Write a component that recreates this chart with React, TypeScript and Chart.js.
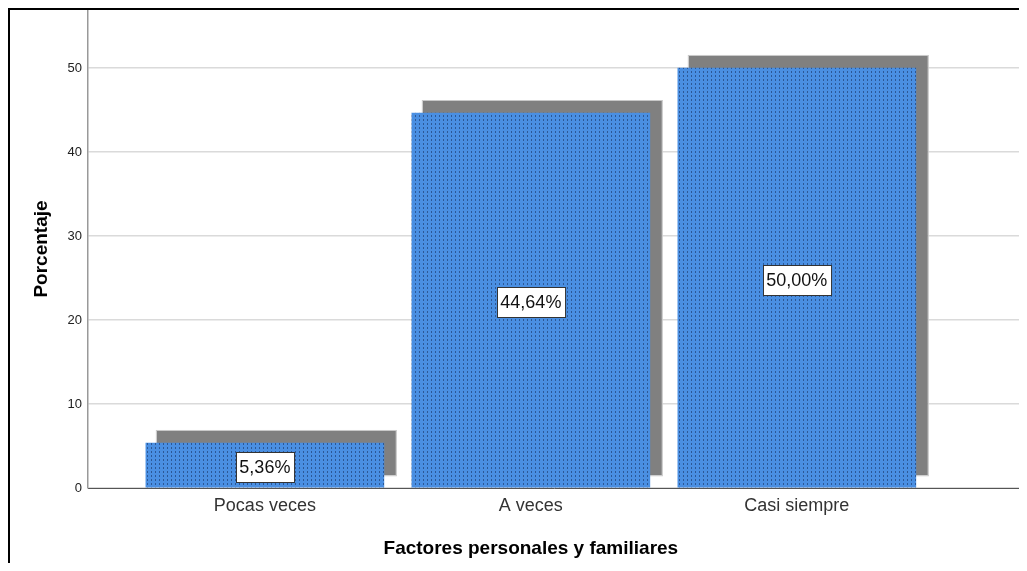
import React, { useEffect, useRef } from "react";
import { Chart, registerables } from "chart.js";

Chart.register(...registerables);

const categories = ["Pocas veces", "A veces", "Casi siempre"];
const percentages = [5.36, 44.64, 50.0];
const yTickValues = [0, 10, 20, 30, 40, 50];
const yAxisTitle = "Porcentaje";
const xAxisTitle = "Factores personales y familiares";

const FONT = "'Liberation Sans', Arial, sans-serif";

function makePattern(): CanvasPattern | string {
  const c = document.createElement("canvas");
  c.width = 4;
  c.height = 4;
  const g = c.getContext("2d");
  if (!g) return "#4a8fe2";
  g.fillStyle = "#4a8fe2";
  g.fillRect(0, 0, 4, 4);
  g.fillStyle = "#2c5896";
  g.fillRect(1, 1, 1, 2);
  const p = g.createPattern(c, "repeat");
  return p || "#4a8fe2";
}

const shadowPlugin = {
  id: "barShadow",
  beforeDatasetsDraw(chart: any) {
    const ctx = chart.ctx;
    const meta = chart.getDatasetMeta(0);
    ctx.save();
    meta.data.forEach((el: any) => {
      const { x, y, base, width } = el.getProps(["x", "y", "base", "width"], true);
      const left = x - width / 2 + 11;
      const right = x + width / 2 + 12;
      const top = y - 12;
      const bottom = base - 12;
      ctx.fillStyle = "#808080";
      ctx.fillRect(left, top, right - left, bottom - top);
      ctx.strokeStyle = "#c8c8c8";
      ctx.lineWidth = 1;
      ctx.strokeRect(left - 0.5, top - 0.5, right - left + 1, bottom - top + 1);
    });
    ctx.restore();
  },
};

const labelPlugin = {
  id: "valueBoxes",
  afterDatasetsDraw(chart: any) {
    const ctx = chart.ctx;
    const meta = chart.getDatasetMeta(0);
    ctx.save();
    ctx.font = `18px ${FONT}`;
    ctx.textAlign = "center";
    ctx.textBaseline = "middle";
    meta.data.forEach((el: any, i: number) => {
      const { x, y, base } = el.getProps(["x", "y", "base"], true);
      const text = percentages[i].toFixed(2).replace(".", ",") + "%";
      const w = ctx.measureText(text).width + 7;
      const h = 30;
      const cy = (y + base) / 2 + 2;
      const bx = Math.round(x - w / 2) + 0.5;
      const by = Math.round(cy - h / 2) + 0.5;
      ctx.fillStyle = "#ffffff";
      ctx.fillRect(bx, by, w, h);
      ctx.strokeStyle = "#333333";
      ctx.lineWidth = 1;
      ctx.strokeRect(bx, by, w, h);
      ctx.fillStyle = "#111111";
      ctx.fillText(text, x, cy + 1);
    });
    ctx.restore();
  },
};

const xTitlePlugin = {
  id: "xTitle",
  afterDraw(chart: any) {
    const ctx = chart.ctx;
    const xs = chart.scales.x;
    const cx = (xs.getPixelForValue(0) + xs.getPixelForValue(categories.length - 1)) / 2;
    ctx.save();
    ctx.font = `bold 19px ${FONT}`;
    ctx.fillStyle = "#000000";
    ctx.textAlign = "center";
    ctx.textBaseline = "middle";
    ctx.fillText(xAxisTitle, cx, xs.top + 61);
    ctx.restore();
  },
};

export default function App() {
  const ref = useRef<HTMLCanvasElement | null>(null);

  useEffect(() => {
    if (!ref.current) return;
    const chart = new Chart(ref.current, {
      type: "bar",
      data: {
        datasets: [
          {
            label: yAxisTitle,
            data: categories.map((_, i) => ({ x: i, y: percentages[i] })),
            backgroundColor: makePattern() as any,
            borderWidth: 0,
            barThickness: 238,
          },
        ],
      },
      options: {
        animation: false,
        responsive: true,
        maintainAspectRatio: false,
        layout: { padding: { top: 0, left: 0, right: 1, bottom: 0 } },
        plugins: {
          legend: { display: false },
          tooltip: { enabled: false },
        },
        scales: {
          x: {
            type: "linear",
            offset: false,
            min: -0.665,
            max: 2.839,
            afterBuildTicks: (scale: any) => {
              scale.ticks = categories.map((_, i) => ({ value: i }));
            },
            afterFit: (scale: any) => {
              scale.height = 75;
              scale.paddingLeft = 0;
              scale.paddingRight = 0;
            },
            ticks: {
              autoSkip: false,
              maxRotation: 0,
              padding: 7,
              color: "#333333",
              font: { family: FONT, size: 18 },
              callback: (v: any) => categories[Math.round(Number(v))] ?? "",
            },
            grid: { display: false, drawTicks: false, offset: false },
            border: { display: true, color: "#555555", width: 1 },
          },
          y: {
            type: "linear",
            min: 0,
            max: 56.9,
            afterBuildTicks: (scale: any) => {
              scale.ticks = yTickValues.map((v) => ({ value: v }));
            },
            afterFit: (scale: any) => {
              scale.width = 78;
              scale.paddingTop = 0;
              scale.paddingBottom = 0;
            },
            ticks: {
              padding: 6,
              color: "#222222",
              font: { family: FONT, size: 13 },
            },
            grid: { color: "#dadada", lineWidth: 1.5, drawTicks: false },
            border: { display: true, color: "#999999", width: 1.5 },
            title: {
              display: true,
              text: yAxisTitle,
              color: "#000000",
              font: { family: FONT, size: 19, weight: "bold" },
              padding: { top: 20, bottom: 0 },
            },
          },
        },
      },
      plugins: [shadowPlugin, labelPlugin, xTitlePlugin],
    });
    return () => chart.destroy();
  }, []);

  return (
    <div
      style={{
        position: "relative",
        width: 1013,
        height: 555,
        borderLeft: "2px solid #000",
        borderTop: "2px solid #000",
        boxSizing: "border-box",
      }}
    >
      <canvas ref={ref} />
    </div>
  );
}
